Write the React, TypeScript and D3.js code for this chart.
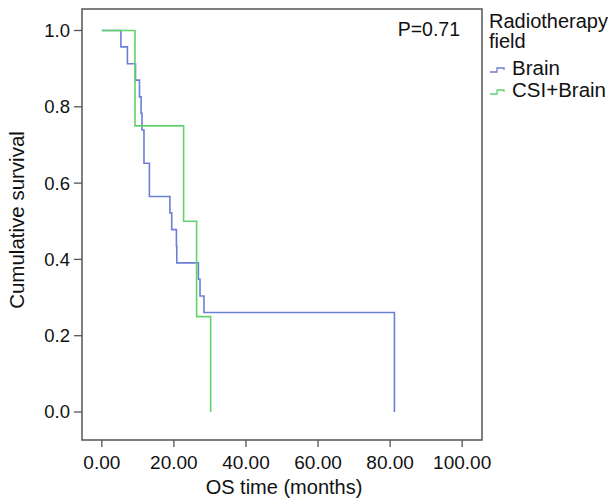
import React from "react";
import * as d3 from "d3";

const brainTimes = [0, 5.3, 7.1, 9.35, 10.45, 10.9, 11.15, 11.7, 13.2, 18.9, 19.4, 20.7, 20.8, 26.8, 27.25, 28.35, 81.2];
const brainSurv = [1.0, 0.957, 0.913, 0.87, 0.826, 0.783, 0.739, 0.652, 0.565, 0.522, 0.478, 0.435, 0.391, 0.348, 0.304, 0.261, 0.0];
const csiTimes = [0, 9.2, 22.7, 26.3, 30.2];
const csiSurv = [1.0, 0.75, 0.5, 0.25, 0.0];
const xTicks = [0, 20, 40, 60, 80, 100];
const yTicks = [0, 0.2, 0.4, 0.6, 0.8, 1.0];
const seriesNames = ["Brain", "CSI+Brain"];
const seriesColors = ["#6a7fd6", "#62d26a"];

const W = 610, H = 501;
const FONT = "'Liberation Sans', Arial, Helvetica, sans-serif";

export default function App() {
  const left = 82, right = 482, top = 9, bottom = 440;
  const x = d3.scaleLinear().domain([-5.5, 105.5]).range([left, right]);
  const y = d3.scaleLinear().domain([0, 1]).range([412, 30.5]);
  const line = d3.line<[number, number]>().x(d => x(d[0])).y(d => y(d[1])).curve(d3.curveStepAfter);
  const series = [
    brainTimes.map((t, i) => [t, brainSurv[i]] as [number, number]),
    csiTimes.map((t, i) => [t, csiSurv[i]] as [number, number]),
  ];
  const axisColor = "#555";
  return (
    <svg width={W} height={H} style={{ position: "absolute", left: 0, top: 0, background: "#fff" }} fontFamily={FONT}>
      <rect x={0} y={0} width={W} height={H} fill="#fff" />
      <rect x={left} y={top} width={right - left} height={bottom - top} fill="none" stroke={axisColor} strokeWidth={1.5} />
      {yTicks.map(v => (
        <g key={"y" + v}>
          <line x1={left - 8} x2={left} y1={y(v)} y2={y(v)} stroke={axisColor} strokeWidth={1.3} />
          <text x={left - 12} y={y(v)} dy="0.35em" textAnchor="end" fontSize={18.5} fill="#111">{v.toFixed(1)}</text>
        </g>
      ))}
      {xTicks.map(v => (
        <g key={"x" + v}>
          <line x1={x(v)} x2={x(v)} y1={bottom} y2={bottom + 7} stroke={axisColor} strokeWidth={1.3} />
          <text x={x(v)} y={bottom + 29} textAnchor="middle" fontSize={19} fill="#111">{v.toFixed(2)}</text>
        </g>
      ))}
      {series.map((s, i) => (
        <path key={i} d={line(s) || ""} fill="none" stroke={seriesColors[i]} strokeWidth={1.6} />
      ))}
      <text x={(left + right) / 2 + 2} y={494} textAnchor="middle" fontSize={20} fill="#111">OS time (months)</text>
      <text transform={`translate(24,220) rotate(-90)`} textAnchor="middle" fontSize={20.5} fill="#111">Cumulative survival</text>
      <text x={460} y={36} textAnchor="end" fontSize={19.5} fill="#111">P=0.71</text>
      <text x={489} y={28} fontSize={20} fill="#111">Radiotherapy</text>
      <text x={489} y={48} fontSize={20} fill="#111">field</text>
      {seriesNames.map((n, i) => {
        const by = 75 + i * 22;
        const sy = by - 5;
        return (
          <g key={n}>
            <path d={`M490,${sy + 2}H497V${sy - 2}H504V${sy}`} fill="none" stroke={seriesColors[i]} strokeWidth={1.3} />
            <text x={512} y={by} fontSize={20.5} fill="#111">{n}</text>
          </g>
        );
      })}
    </svg>
  );
}
